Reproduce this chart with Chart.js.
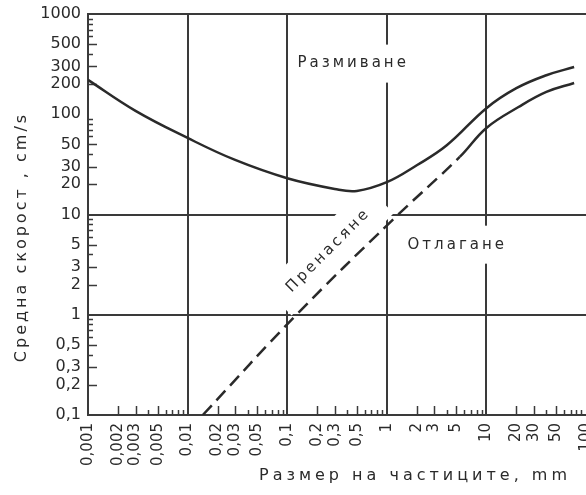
<!DOCTYPE html>
<html>
<head>
<meta charset="utf-8">
<script src="https://cdn.jsdelivr.net/npm/chart.js@4.4.0/dist/chart.umd.min.js"></script>
<style>
    html, body { margin: 0; padding: 0; background: #fff; }
    #wrap { width: 586px; height: 495px; position: relative; }
</style>
</head>
<body>
<div id="wrap"><canvas id="chart-area"></canvas></div>
<script>
// upper curve - erosion (solid)
var erosionSize = [0.001, 0.003, 0.01, 0.03, 0.1, 0.3, 0.5, 1, 2, 4, 10, 20, 40, 76];
var erosionSpeed = [220, 108, 58, 35, 23, 18, 17.2, 21, 31, 49, 115, 182, 245, 296];

// lower curve - transport / deposition (dashed up to ~5 mm, solid after)
var depositSize = [0.0142, 0.124, 1.14, 5.4, 10, 21, 40, 76];
var depositSpeed = [0.1, 1, 8.8, 37.5, 73, 118, 167, 205];
var dashedUntil = 5.4;

// tick labels
var xLabels = [0.001, 0.002, 0.003, 0.005, 0.01, 0.02, 0.03, 0.05, 0.1, 0.2, 0.3, 0.5,
    1, 2, 3, 5, 10, 20, 30, 50, 100];
var yLabels = [0.1, 0.2, 0.3, 0.5, 1, 2, 3, 5, 10, 20, 30, 50, 100, 200, 300, 500, 1000];

var regionLabels = [
    { text: 'Размиване', x: 0.46, y: 320, angle: 0, padX: 6, padY: 12 },
    { text: 'Пренасяне', x: 0.26, y: 4.4, angle: -45, padX: 16, padY: 13 },
    { text: 'Отлагане', x: 5.1, y: 5, angle: 0, padX: 6, padY: 12 }
];

var ink = '#2a2a2a';
var gridInk = '#3a3a3a';
var font = 'DejaVu Sans';

function minorTicks(lo, hi) {
    var out = [];
    for (var e = lo; e < hi; e++) {
        for (var m = 1; m < 10; m++) {
            out.push(Number((m * Math.pow(10, e)).toPrecision(2)));
        }
    }
    out.push(Math.pow(10, hi));
    return out;
}
var xTicks = minorTicks(-3, 2);
var yTicks = minorTicks(-1, 3);

function isDecade(v) {
    var l = Math.log10(v);
    return Math.abs(l - Math.round(l)) < 1e-6;
}
function fmt(v) {
    return String(v).replace('.', ',');
}
function gridColor(c) {
    var v = c.tick ? c.tick.value : null;
    if (v == null || !isDecade(v) || v === 100) return 'transparent';
    return gridInk;
}

function toPoints(xs, ys) {
    return xs.map(function (x, i) { return { x: x, y: ys[i] }; });
}

var decorPlugin = {
    id: 'decor',
    beforeDatasetsDraw: function (chart) {
        var ctx = chart.ctx;
        var xs = chart.scales.x, ys = chart.scales.y;
        var area = chart.chartArea;
        ctx.save();

        // region names, white box behind breaks the grid like on the original
        ctx.font = '15px "' + font + '"';
        ctx.letterSpacing = '3px';
        ctx.textAlign = 'center';
        ctx.textBaseline = 'middle';
        regionLabels.forEach(function (r) {
            var w = ctx.measureText(r.text).width;
            var h = 14;
            ctx.save();
            ctx.translate(xs.getPixelForValue(r.x), ys.getPixelForValue(r.y));
            ctx.rotate(r.angle * Math.PI / 180);
            ctx.fillStyle = '#fff';
            ctx.fillRect(-w / 2 - r.padX, -h / 2 - r.padY, w + 2 * r.padX, h + 2 * r.padY);
            ctx.fillStyle = ink;
            ctx.fillText(r.text, 0, 0);
            ctx.restore();
        });
        ctx.letterSpacing = '0px';

        // small ticks pointing into the plot
        ctx.strokeStyle = gridInk;
        ctx.lineWidth = 1.5;
        xs.ticks.forEach(function (t) {
            if (isDecade(t.value)) return;
            var len = xLabels.indexOf(t.value) >= 0 ? 9 : 5;
            var px = Math.round(xs.getPixelForValue(t.value)) + 0.5;
            ctx.beginPath();
            ctx.moveTo(px, area.bottom);
            ctx.lineTo(px, area.bottom - len);
            ctx.stroke();
        });
        ys.ticks.forEach(function (t) {
            if (isDecade(t.value)) return;
            var len = yLabels.indexOf(t.value) >= 0 ? 9 : 5;
            var py = Math.round(ys.getPixelForValue(t.value)) + 0.5;
            ctx.beginPath();
            ctx.moveTo(area.left, py);
            ctx.lineTo(area.left + len, py);
            ctx.stroke();
        });
        ctx.restore();
    },
    afterDraw: function (chart) {
        var ctx = chart.ctx;
        ctx.save();
        ctx.fillStyle = ink;
        ctx.font = '16px "' + font + '"';
        ctx.letterSpacing = '4px';
        ctx.textAlign = 'center';
        ctx.textBaseline = 'middle';
        ctx.fillText('Размер на частиците, mm', 415, 476);

        ctx.letterSpacing = '3px';
        ctx.translate(22, 237);
        ctx.rotate(-Math.PI / 2);
        ctx.fillText('Средна скорост , cm/s', 0, 0);
        ctx.restore();
    }
};

var ctx = document.getElementById('chart-area').getContext('2d');
window.hjulstrom = new Chart(ctx, {
    type: 'scatter',
    data: {
        datasets: [
            {
                label: 'Размиване',
                data: toPoints(erosionSize, erosionSpeed),
                showLine: true,
                borderColor: ink,
                borderWidth: 2.5,
                pointRadius: 0,
                tension: 0.4
            },
            {
                label: 'Отлагане',
                data: toPoints(depositSize, depositSpeed),
                showLine: true,
                borderColor: ink,
                borderWidth: 2.5,
                pointRadius: 0,
                tension: 0.4,
                segment: {
                    borderDash: function (c) {
                        return c.p1.parsed.x <= dashedUntil ? [13, 7] : undefined;
                    }
                }
            }
        ]
    },
    options: {
        responsive: true,
        maintainAspectRatio: false,
        animation: false,
        layout: { padding: { top: 14, right: 0, left: 0, bottom: 0 } },
        plugins: {
            legend: { display: false },
            tooltip: { enabled: false }
        },
        scales: {
            x: {
                type: 'logarithmic',
                min: 0.001,
                max: 100,
                afterBuildTicks: function (scale) {
                    scale.ticks = xTicks.map(function (v) { return { value: v }; });
                },
                afterFit: function (scale) {
                    scale.height = 80;
                    scale.paddingLeft = 0;
                    scale.paddingRight = 0;
                },
                grid: { color: gridColor, lineWidth: 2, drawTicks: false },
                border: { color: gridInk, width: 2 },
                ticks: {
                    autoSkip: false,
                    minRotation: 90,
                    maxRotation: 90,
                    padding: 8,
                    color: ink,
                    font: { family: font, size: 15 },
                    callback: function (v) {
                        return xLabels.indexOf(v) >= 0 ? fmt(v) : '';
                    }
                }
            },
            y: {
                type: 'logarithmic',
                min: 0.1,
                max: 1000,
                afterBuildTicks: function (scale) {
                    scale.ticks = yTicks.map(function (v) { return { value: v }; });
                },
                afterFit: function (scale) {
                    scale.width = 88;
                    scale.paddingTop = 0;
                    scale.paddingBottom = 0;
                },
                grid: { color: gridColor, lineWidth: 2, drawTicks: false },
                border: { color: gridInk, width: 2 },
                ticks: {
                    autoSkip: false,
                    padding: 7,
                    color: ink,
                    font: { family: font, size: 16 },
                    callback: function (v) {
                        return yLabels.indexOf(v) >= 0 ? fmt(v) : '';
                    }
                }
            }
        }
    },
    plugins: [decorPlugin]
});
</script>
</body>
</html>
